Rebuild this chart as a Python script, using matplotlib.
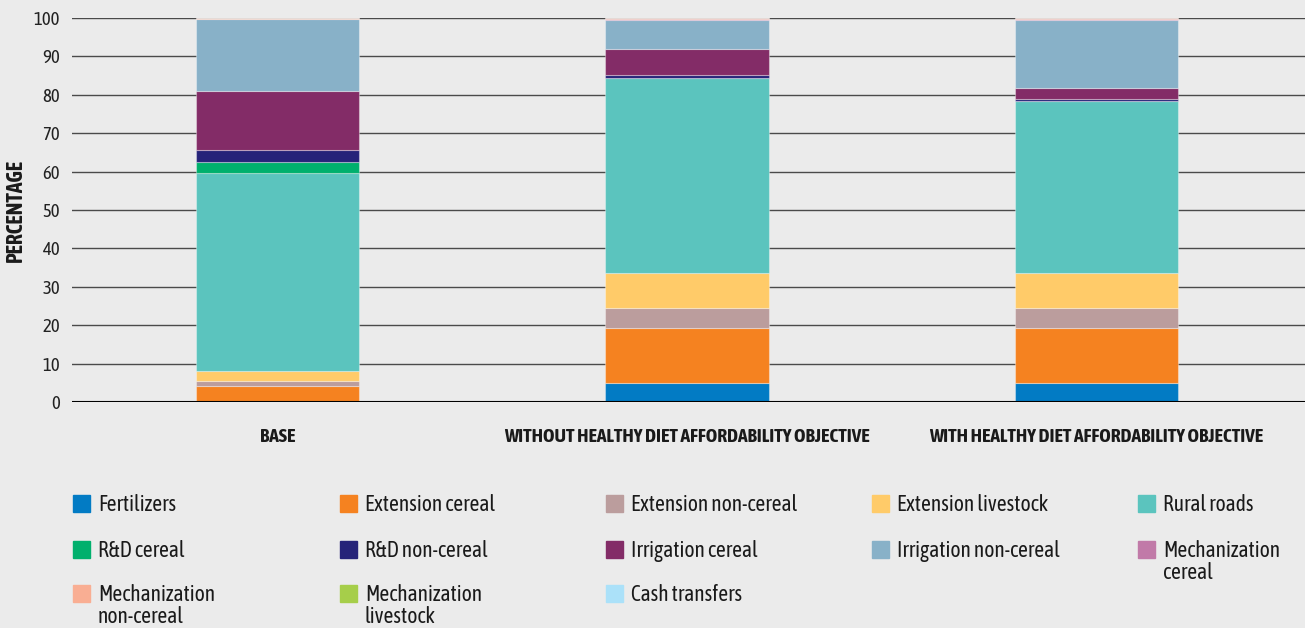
import numpy as np
import matplotlib
matplotlib.use('Agg')
import matplotlib.pyplot as plt
from matplotlib.patches import Rectangle

plt.rcParams['font.family'] = ['Asap Condensed', 'DejaVu Sans']

BG = '#ebebeb'

scenarios = ['BASE', 'WITHOUT HEALTHY DIET AFFORDABILITY OBJECTIVE',
             'WITH HEALTHY DIET AFFORDABILITY OBJECTIVE']

components = ['Fertilizers', 'Extension cereal', 'Extension non-cereal',
              'Extension livestock', 'Rural roads', 'R&D cereal',
              'R&D non-cereal', 'Irrigation cereal', 'Irrigation non-cereal',
              'Mechanization\ncereal', 'Mechanization\nnon-cereal',
              'Mechanization\nlivestock', 'Cash transfers']

colors = ['#027bc4', '#f58220', '#bb9d9d', '#ffcb69', '#5bc4be', '#00b06d',
          '#262379', '#832c67', '#88b1c8', '#c17aa8', '#f9ae93', '#a6ce4a',
          '#abe1f9']

# percentage share per component, one value per scenario
fertilizers = [0.0, 5.0, 5.0]
ext_cereal = [4.2, 14.4, 14.4]
ext_noncereal = [1.2, 5.0, 5.0]
ext_livestock = [2.8, 9.2, 9.2]
rural_roads = [51.4, 50.8, 44.7]
rd_cereal = [2.9, 0.1, 0.1]
rd_noncereal = [3.2, 0.6, 0.6]
irr_cereal = [15.2, 6.7, 2.8]
irr_noncereal = [18.8, 7.7, 17.7]
mech_cereal = [0.1, 0.3, 0.3]
mech_noncereal = [0.1, 0.1, 0.1]
mech_livestock = [0.0, 0.1, 0.1]
cash_transfers = [0.0, 0.0, 0.0]

series = [fertilizers, ext_cereal, ext_noncereal, ext_livestock, rural_roads,
          rd_cereal, rd_noncereal, irr_cereal, irr_noncereal, mech_cereal,
          mech_noncereal, mech_livestock, cash_transfers]

fig = plt.figure(figsize=(13.05, 6.28), dpi=100, facecolor=BG)
ax = fig.add_axes([72 / 1305, 1 - 402 / 628, 1 - 72 / 1305, 384 / 628])
ax.set_facecolor(BG)

x = np.arange(len(scenarios))
bottom = np.zeros(len(scenarios))
for vals, col in zip(series, colors):
    ax.bar(x, vals, 0.4, bottom=bottom, color=col,
           edgecolor=(1, 1, 1, 0.35), linewidth=0.8, zorder=3)
    bottom += np.array(vals)

ax.set_xlim(-0.502, 2.509)
ax.set_ylim(0, 100)
ax.set_yticks(np.arange(0, 101, 10))
ax.grid(axis='y', color='#4a4a4a', linewidth=1.0, zorder=0)
ax.set_axisbelow(True)
ax.axhline(0, color='black', linewidth=1.5, zorder=4)
for s in ax.spines.values():
    s.set_visible(False)
ax.tick_params(axis='y', length=0, pad=8.5, labelsize=13.5, labelcolor='#222')
ax.tick_params(axis='x', length=0, pad=19, labelsize=14)
ax.set_xticks(x)
ax.set_xticklabels(scenarios, fontweight='bold', color='#1a1a1a')
ax.set_ylabel('PERCENTAGE', fontweight='bold', fontsize=15.5, color='#1a1a1a')
ax.yaxis.set_label_coords(-0.037, 0.5)

# legend laid out in rows of five
col_x = [73, 340, 606, 872, 1138]
row_y = [503, 549, 593]
for i, (name, col) in enumerate(zip(components, colors)):
    cx = col_x[i % 5]
    cy = row_y[i // 5]
    fig.patches.append(Rectangle((cx / 1305, 1 - (cy + 8.5) / 628),
                                 17 / 1305, 17 / 628, color=col,
                                 transform=fig.transFigure, figure=fig))
    fig.text((cx + 25) / 1305, 1 - (cy - 9) / 628, name, fontsize=15.5,
             va='top', ha='left', color='#1a1a1a', linespacing=1.0)

fig.savefig('out.png', dpi=100, facecolor=BG)
